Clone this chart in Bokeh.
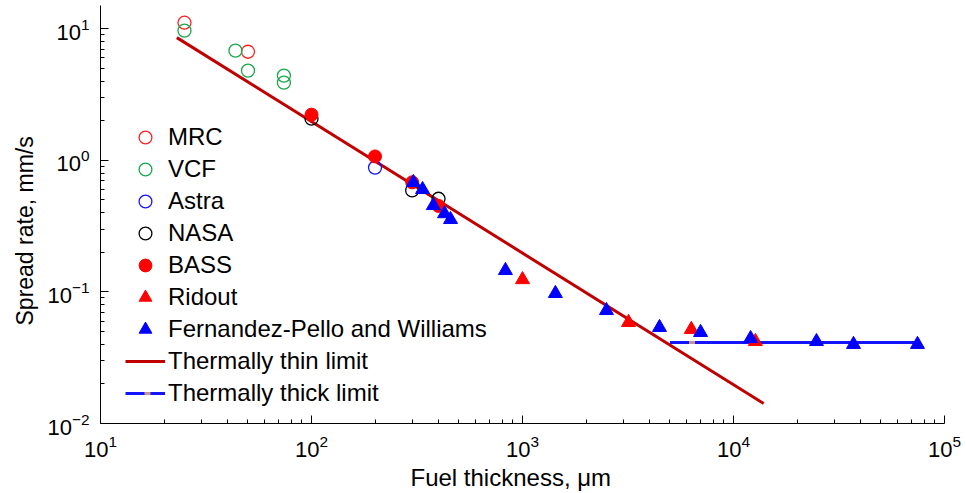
import math
from bokeh.plotting import figure
from bokeh.models import Legend, LegendItem, Title, FixedTicker
from bokeh.embed import file_html
from bokeh.resources import INLINE

# ---- data ----
mrc_x = [25, 50]
mrc_y = [11.1, 6.68]
vcf_x = [25, 43.6, 50, 74, 74]
vcf_y = [9.66, 6.81, 4.80, 4.40, 3.89]
astra_x = [200]
astra_y = [0.88]
nasa_x = [100, 300, 400]
nasa_y = [2.07, 0.59, 0.51]
bass_x = [100, 200, 300, 400]
bass_y = [2.22, 1.07, 0.68, 0.45]
ridout_x = [1000, 3180, 6310, 12700]
ridout_y = [0.124, 0.0586, 0.0519, 0.042]
fpw_x = [304, 336, 378, 427, 456, 830, 1432, 2500, 4460, 6980, 12050, 24730, 37050, 74470]
fpw_y = [0.678, 0.600, 0.453, 0.393, 0.355, 0.1454, 0.0973, 0.0722, 0.0537, 0.0492, 0.0442, 0.0420, 0.0399, 0.0399]
thin_x = [23, 13900]
thin_y = [8.55, 0.0142]
thick_x = [5000, 74500]
thick_y = [0.0413, 0.0413]

x_major = [10, 100, 1000, 10000, 100000]
y_major = [0.01, 0.1, 1, 10]

FONT = "Liberation Sans"

p = figure(width=966, height=493, x_axis_type="log", y_axis_type="log",
           x_range=(10, 1e5), y_range=(0.01, 15),
           output_backend="svg", toolbar_location=None,
           min_border_left=100, min_border_right=22,
           min_border_top=5, min_border_bottom=70)
p.outline_line_color = None
p.xgrid.visible = False
p.ygrid.visible = False
p.background_fill_color = "white"
p.border_fill_color = "white"

x_minor = [d * k for d in x_major[:-1] for k in range(2, 10)]
y_minor = [d * k for d in y_major[:-1] for k in range(2, 10)] + [10 * k for k in range(2, 10)]
p.xaxis.ticker = FixedTicker(ticks=x_major, minor_ticks=x_minor)
p.yaxis.ticker = FixedTicker(ticks=y_major, minor_ticks=y_minor)

for ax in (p.xaxis, p.yaxis):
    ax.axis_line_color = "black"
    ax.axis_line_width = 1
    ax.major_tick_in = 8
    ax.major_tick_out = 0
    ax.minor_tick_in = 4
    ax.minor_tick_out = 0
    ax.major_tick_line_color = "black"
    ax.minor_tick_line_color = "black"
    ax.major_label_text_font = FONT
    ax.major_label_text_font_size = "22px"
    ax.major_label_text_color = "black"
    ax.major_label_standoff = 11

# ---- lines ----
thin = p.line(thin_x, thin_y, line_color="#C00000", line_width=3)
thick = p.line(thick_x, thick_y, line_color="#1414FF", line_width=3)
tan = p.line(thick_x, thick_y, line_color="#C8968C", line_width=3, line_dash="0 19 6 100000")

# ---- markers ----
ms = 13
r_mrc = p.scatter(mrc_x, mrc_y, marker="circle", size=ms, fill_color=None, line_color="#FF2020", line_width=1.3)
r_vcf = p.scatter(vcf_x, vcf_y, marker="circle", size=ms, fill_color=None, line_color="#17A84A", line_width=1.3)
r_astra = p.scatter(astra_x, astra_y, marker="circle", size=ms, fill_color=None, line_color="#1414FF", line_width=1.3)
r_nasa = p.scatter(nasa_x, nasa_y, marker="circle", size=ms, fill_color=None, line_color="black", line_width=1.3)
r_bass = p.scatter(bass_x, bass_y, marker="circle", size=ms, fill_color="#FF0000", line_color="#FF0000", line_width=1)
r_rid = p.scatter(ridout_x, ridout_y, marker="triangle", size=14, fill_color="#FF0000", line_color="#FF0000", line_width=1)
r_fpw = p.scatter(fpw_x, fpw_y, marker="triangle", size=14, fill_color="#0000FF", line_color="#0000FF", line_width=1)

items = [
    LegendItem(label="MRC", renderers=[r_mrc]),
    LegendItem(label="VCF", renderers=[r_vcf]),
    LegendItem(label="Astra", renderers=[r_astra]),
    LegendItem(label="NASA", renderers=[r_nasa]),
    LegendItem(label="BASS", renderers=[r_bass]),
    LegendItem(label="Ridout", renderers=[r_rid]),
    LegendItem(label="Fernandez-Pello and Williams", renderers=[r_fpw]),
    LegendItem(label="Thermally thin limit", renderers=[thin]),
    LegendItem(label="Thermally thick limit", renderers=[thick, tan]),
]
legend = Legend(items=items, location=(25, 14), glyph_width=40, glyph_height=32,
                label_height=32, label_standoff=3, spacing=0, padding=0, margin=0,
                border_line_color=None, background_fill_alpha=0,
                label_text_font=FONT, label_text_font_size="24px", label_text_color="black")
p.add_layout(legend)

ylab = Title(text="Spread rate, mm/s", align="left", offset=98, standoff=14,
             text_font=FONT, text_font_size="23px", text_font_style="normal", text_color="black")
xlab = Title(text="Fuel thickness, μm", align="left", offset=310, standoff=4,
             text_font=FONT, text_font_size="24px", text_font_style="normal", text_color="black")
p.add_layout(ylab, "left")
p.add_layout(xlab, "below")

open("out.html", "w").write(file_html(p, INLINE))
